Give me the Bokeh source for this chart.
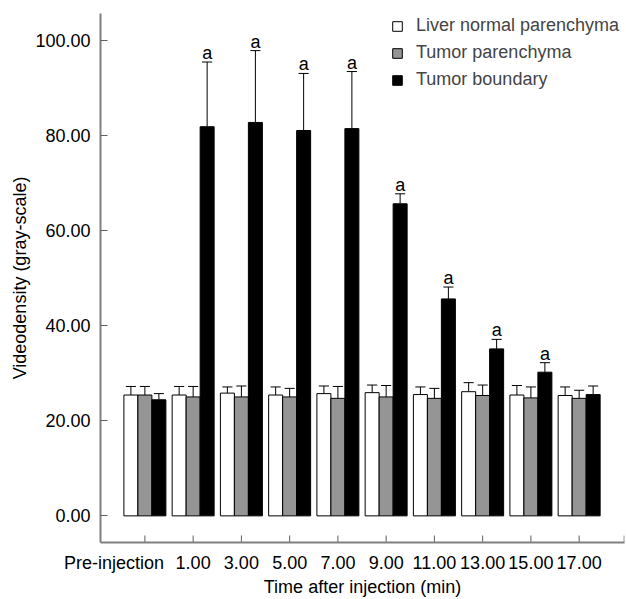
from bokeh.plotting import figure
from bokeh.models import FixedTicker, Legend, LegendItem, Range1d, NumeralTickFormatter
from bokeh.core.properties import value
from bokeh.embed import file_html
from bokeh.resources import INLINE

# ---- data ----
labels = ["Pre-injection", "1.00", "3.00", "5.00", "7.00", "9.00",
          "11.00", "13.00", "15.00", "17.00"]
liver = [25.4, 25.4, 25.8, 25.4, 25.7, 25.9, 25.5, 26.1, 25.4, 25.3]
liver_sd = [1.8, 1.8, 1.3, 1.7, 1.6, 1.6, 1.6, 1.9, 2.0, 1.8]
tumor = [25.4, 25.0, 25.0, 25.0, 24.7, 25.0, 24.7, 25.3, 24.8, 24.7]
tumor_sd = [1.8, 2.2, 2.3, 1.8, 2.5, 2.4, 2.1, 2.2, 2.3, 1.7]
boundary = [24.4, 81.8, 82.7, 81.0, 81.4, 65.6, 45.6, 35.1, 30.2, 25.5]
boundary_sd = [1.3, 13.6, 15.1, 12.0, 12.0, 2.1, 2.5, 2.0, 2.0, 1.8]
sig = ["", "a", "a", "a", "a", "a", "a", "a", "a", ""]
series_names = ["Liver normal parenchyma", "Tumor parenchyma", "Tumor boundary"]
y_ticks = [0, 20, 40, 60, 80, 100]
x_title = "Time after injection (min)"
y_title = "Videodensity (gray-scale)"

FONT = "Liberation Sans"
FS = "18px"
colors = ["white", "#959595", "black"]
bw = 0.29
cap = 0.105

W, H = 626, 599
LEFT, RIGHT, TOP, BOTTOM = 100, 2, 13, 57
X0, X1 = 0.08, 10.94
Y0, Y1 = -5.6, 105.6
ppu = (H - TOP - BOTTOM) / (Y1 - Y0)      # px per unit, vertical
ppx = (W - LEFT - RIGHT) / (X1 - X0)      # px per category, horizontal

pos = list(range(1, len(labels) + 1))

p = figure(width=W, height=H, output_backend="svg", toolbar_location=None,
           x_range=Range1d(X0, X1), y_range=Range1d(Y0, Y1),
           min_border_left=LEFT, min_border_right=RIGHT, min_border_top=TOP,
           min_border_bottom=BOTTOM)
p.outline_line_color = None
p.grid.visible = False
p.background_fill_color = "white"
p.border_fill_color = "white"

renderers = []
for k, (vals, sds) in enumerate([(liver, liver_sd), (tumor, tumor_sd), (boundary, boundary_sd)]):
    xs = [x + (k - 1) * bw for x in pos]
    tops = [v + s for v, s in zip(vals, sds)]
    p.segment(x0=xs, y0=vals, x1=xs, y1=tops, line_color="black", line_width=1)
    p.segment(x0=[x - cap for x in xs], y0=tops, x1=[x + cap for x in xs], y1=tops,
              line_color="black", line_width=1)
    r = p.vbar(x=xs, top=vals, bottom=0, width=bw, fill_color=colors[k],
               line_color="black", line_width=1)
    renderers.append(r)
    if k == 2:
        p.text(x=xs, y=[t + 9 / ppu for t in tops], text=sig, text_align="center",
               text_baseline="alphabetic", text_font=value(FONT), text_font_size=FS,
               text_color="black")

# inward x tick marks (at each category and at the axis end)
tick_x = pos + [X1 - 0.3 / ppx]
p.segment(x0=tick_x, y0=[Y0] * len(tick_x), x1=tick_x, y1=[Y0 + 7 / ppu] * len(tick_x),
          line_color="#606060", line_width=1)

legend = Legend(items=[LegendItem(label=n, renderers=[r]) for n, r in zip(series_names, renderers)],
                location=(291, 452), padding=0, spacing=6, glyph_width=12, glyph_height=12,
                label_standoff=13, label_text_font=FONT, label_text_font_size=FS,
                label_height=21, border_line_color=None, background_fill_alpha=0)
p.add_layout(legend)

for ax in (p.xaxis[0], p.yaxis[0]):
    ax.axis_line_color = "#808080"
    ax.axis_line_width = 2
    ax.major_tick_in = 7
    ax.major_tick_out = 0
    ax.major_tick_line_color = "#606060"
    ax.major_tick_line_width = 1
    ax.minor_tick_line_color = None
    ax.major_label_text_font = FONT
    ax.major_label_text_font_size = FS
    ax.major_label_text_color = "black"
    ax.axis_label_text_font = FONT
    ax.axis_label_text_font_size = FS
    ax.axis_label_text_font_style = "normal"
    ax.axis_label_text_color = "black"

# the first category's label sits to the left of its tick, as in the original
pre_x = round(pos[0] - 31 / ppx, 2)
label_pos = [pre_x] + pos[1:]
p.xaxis.ticker = FixedTicker(ticks=label_pos)
p.xaxis.major_label_overrides = {x: lab for x, lab in zip(label_pos, labels)}
p.xaxis.major_tick_line_color = None
p.xaxis.major_label_standoff = 10
p.xaxis.axis_label = x_title
p.xaxis.axis_label_standoff = 1

p.yaxis.ticker = FixedTicker(ticks=y_ticks)
p.yaxis.formatter = NumeralTickFormatter(format="0.00")
p.yaxis.major_label_standoff = 10
p.yaxis.axis_label = y_title
p.yaxis.axis_label_standoff = 2

open("out.html", "w").write(file_html(p, INLINE))
